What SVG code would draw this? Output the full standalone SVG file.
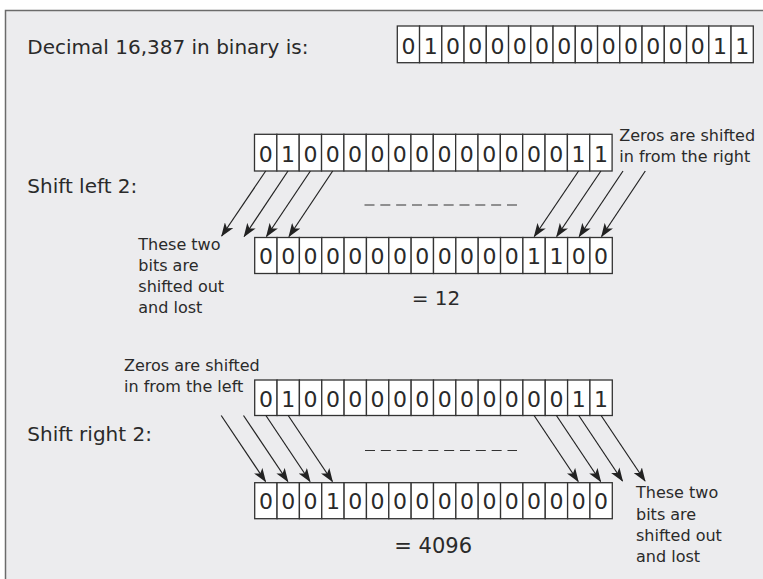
<svg xmlns="http://www.w3.org/2000/svg" width="763" height="579" viewBox="0 0 763 579">
<style>
.frame{fill:#ECECEE;stroke:#6b6b6b;stroke-width:1.5}
.cell{fill:#ffffff;stroke:#333333;stroke-width:1.3}
.bit{font-family:"DejaVu Sans",sans-serif;font-size:22px;fill:#2a2a2a;text-anchor:middle}
.lbl{font-family:"DejaVu Sans",sans-serif;font-size:20px;fill:#2a2a2a}
.note{font-family:"DejaVu Sans",sans-serif;font-size:16px;fill:#2a2a2a}
.res{font-family:"DejaVu Sans",sans-serif;font-size:21px;fill:#2a2a2a}
.arr{stroke:#222222;stroke-width:1.2;fill:none;marker-end:url(#ah)}
.dash{stroke:#333333;stroke-width:1.2;stroke-dasharray:10 5.83;fill:none}
</style>
<defs>
<marker id="ah" viewBox="0 0 14 10" refX="13" refY="5" markerWidth="14" markerHeight="10" markerUnits="userSpaceOnUse" orient="auto">
<path d="M0,0 L14,5 L0,10 L3.5,5 Z" fill="#222222"/>
</marker>
</defs>
<rect class="frame" x="5.5" y="10.5" width="800" height="620"/>

<g id="label-decimal"><text class="lbl" x="27.3" y="54.3">Decimal 16,387 in binary is:</text></g>

<g id="row-original">
<rect class="cell" x="397.3" y="26" width="22.25" height="36.7"/><text class="bit" x="408.4" y="53.5">0</text>
<rect class="cell" x="419.55" y="26" width="22.25" height="36.7"/><text class="bit" x="430.7" y="53.5">1</text>
<rect class="cell" x="441.8" y="26" width="22.25" height="36.7"/><text class="bit" x="452.9" y="53.5">0</text>
<rect class="cell" x="464.05" y="26" width="22.25" height="36.7"/><text class="bit" x="475.2" y="53.5">0</text>
<rect class="cell" x="486.3" y="26" width="22.25" height="36.7"/><text class="bit" x="497.4" y="53.5">0</text>
<rect class="cell" x="508.55" y="26" width="22.25" height="36.7"/><text class="bit" x="519.7" y="53.5">0</text>
<rect class="cell" x="530.8" y="26" width="22.25" height="36.7"/><text class="bit" x="541.9" y="53.5">0</text>
<rect class="cell" x="553.05" y="26" width="22.25" height="36.7"/><text class="bit" x="564.2" y="53.5">0</text>
<rect class="cell" x="575.3" y="26" width="22.25" height="36.7"/><text class="bit" x="586.4" y="53.5">0</text>
<rect class="cell" x="597.55" y="26" width="22.25" height="36.7"/><text class="bit" x="608.7" y="53.5">0</text>
<rect class="cell" x="619.8" y="26" width="22.25" height="36.7"/><text class="bit" x="630.9" y="53.5">0</text>
<rect class="cell" x="642.05" y="26" width="22.25" height="36.7"/><text class="bit" x="653.2" y="53.5">0</text>
<rect class="cell" x="664.3" y="26" width="22.25" height="36.7"/><text class="bit" x="675.4" y="53.5">0</text>
<rect class="cell" x="686.55" y="26" width="22.25" height="36.7"/><text class="bit" x="697.7" y="53.5">0</text>
<rect class="cell" x="708.8" y="26" width="22.25" height="36.7"/><text class="bit" x="719.9" y="53.5">1</text>
<rect class="cell" x="731.05" y="26" width="22.25" height="36.7"/><text class="bit" x="742.2" y="53.5">1</text>
</g>

<g id="label-shift-left"><text class="lbl" x="27.3" y="193.3">Shift left 2:</text></g>

<g id="row-left-before">
<rect class="cell" x="254.5" y="134.3" width="22.35" height="36.7"/><text class="bit" x="265.7" y="161.5">0</text>
<rect class="cell" x="276.85" y="134.3" width="22.35" height="36.7"/><text class="bit" x="288.0" y="161.5">1</text>
<rect class="cell" x="299.2" y="134.3" width="22.35" height="36.7"/><text class="bit" x="310.4" y="161.5">0</text>
<rect class="cell" x="321.55" y="134.3" width="22.35" height="36.7"/><text class="bit" x="332.7" y="161.5">0</text>
<rect class="cell" x="343.9" y="134.3" width="22.35" height="36.7"/><text class="bit" x="355.1" y="161.5">0</text>
<rect class="cell" x="366.25" y="134.3" width="22.35" height="36.7"/><text class="bit" x="377.4" y="161.5">0</text>
<rect class="cell" x="388.6" y="134.3" width="22.35" height="36.7"/><text class="bit" x="399.8" y="161.5">0</text>
<rect class="cell" x="410.95" y="134.3" width="22.35" height="36.7"/><text class="bit" x="422.1" y="161.5">0</text>
<rect class="cell" x="433.3" y="134.3" width="22.35" height="36.7"/><text class="bit" x="444.5" y="161.5">0</text>
<rect class="cell" x="455.65" y="134.3" width="22.35" height="36.7"/><text class="bit" x="466.8" y="161.5">0</text>
<rect class="cell" x="478.0" y="134.3" width="22.35" height="36.7"/><text class="bit" x="489.2" y="161.5">0</text>
<rect class="cell" x="500.35" y="134.3" width="22.35" height="36.7"/><text class="bit" x="511.5" y="161.5">0</text>
<rect class="cell" x="522.7" y="134.3" width="22.35" height="36.7"/><text class="bit" x="533.9" y="161.5">0</text>
<rect class="cell" x="545.05" y="134.3" width="22.35" height="36.7"/><text class="bit" x="556.2" y="161.5">0</text>
<rect class="cell" x="567.4" y="134.3" width="22.35" height="36.7"/><text class="bit" x="578.6" y="161.5">1</text>
<rect class="cell" x="589.75" y="134.3" width="22.35" height="36.7"/><text class="bit" x="600.9" y="161.5">1</text>
</g>

<g id="note-left-in">
<text class="note" x="619.3" y="140.7">Zeros are shifted</text>
<text class="note" x="619.3" y="161.7">in from the right</text>
</g>

<g id="row-left-after">
<rect class="cell" x="254.7" y="237.5" width="22.35" height="36"/><text class="bit" x="265.9" y="264">0</text>
<rect class="cell" x="277.05" y="237.5" width="22.35" height="36"/><text class="bit" x="288.2" y="264">0</text>
<rect class="cell" x="299.4" y="237.5" width="22.35" height="36"/><text class="bit" x="310.6" y="264">0</text>
<rect class="cell" x="321.75" y="237.5" width="22.35" height="36"/><text class="bit" x="332.9" y="264">0</text>
<rect class="cell" x="344.1" y="237.5" width="22.35" height="36"/><text class="bit" x="355.3" y="264">0</text>
<rect class="cell" x="366.45" y="237.5" width="22.35" height="36"/><text class="bit" x="377.6" y="264">0</text>
<rect class="cell" x="388.8" y="237.5" width="22.35" height="36"/><text class="bit" x="400.0" y="264">0</text>
<rect class="cell" x="411.15" y="237.5" width="22.35" height="36"/><text class="bit" x="422.3" y="264">0</text>
<rect class="cell" x="433.5" y="237.5" width="22.35" height="36"/><text class="bit" x="444.7" y="264">0</text>
<rect class="cell" x="455.85" y="237.5" width="22.35" height="36"/><text class="bit" x="467.0" y="264">0</text>
<rect class="cell" x="478.2" y="237.5" width="22.35" height="36"/><text class="bit" x="489.4" y="264">0</text>
<rect class="cell" x="500.55" y="237.5" width="22.35" height="36"/><text class="bit" x="511.7" y="264">0</text>
<rect class="cell" x="522.9" y="237.5" width="22.35" height="36"/><text class="bit" x="534.1" y="264">1</text>
<rect class="cell" x="545.25" y="237.5" width="22.35" height="36"/><text class="bit" x="556.4" y="264">1</text>
<rect class="cell" x="567.6" y="237.5" width="22.35" height="36"/><text class="bit" x="578.8" y="264">0</text>
<rect class="cell" x="589.95" y="237.5" width="22.35" height="36"/><text class="bit" x="601.1" y="264">0</text>
</g>

<g id="note-left-lost">
<text class="note" x="138.3" y="250">These two</text>
<text class="note" x="138.3" y="270.8">bits are</text>
<text class="note" x="138.3" y="291.7">shifted out</text>
<text class="note" x="138.3" y="313.3">and lost</text>
</g>

<g id="result-left"><text class="lbl" x="411.7" y="305">= 12</text></g>

<g id="label-shift-right"><text class="lbl" x="27.3" y="440.5">Shift right 2:</text></g>

<g id="note-right-in">
<text class="note" x="124" y="370.5">Zeros are shifted</text>
<text class="note" x="124" y="392.3">in from the left</text>
</g>

<g id="row-right-before">
<rect class="cell" x="254.7" y="380" width="22.35" height="35.5"/><text class="bit" x="265.9" y="406.5">0</text>
<rect class="cell" x="277.05" y="380" width="22.35" height="35.5"/><text class="bit" x="288.2" y="406.5">1</text>
<rect class="cell" x="299.4" y="380" width="22.35" height="35.5"/><text class="bit" x="310.6" y="406.5">0</text>
<rect class="cell" x="321.75" y="380" width="22.35" height="35.5"/><text class="bit" x="332.9" y="406.5">0</text>
<rect class="cell" x="344.1" y="380" width="22.35" height="35.5"/><text class="bit" x="355.3" y="406.5">0</text>
<rect class="cell" x="366.45" y="380" width="22.35" height="35.5"/><text class="bit" x="377.6" y="406.5">0</text>
<rect class="cell" x="388.8" y="380" width="22.35" height="35.5"/><text class="bit" x="400.0" y="406.5">0</text>
<rect class="cell" x="411.15" y="380" width="22.35" height="35.5"/><text class="bit" x="422.3" y="406.5">0</text>
<rect class="cell" x="433.5" y="380" width="22.35" height="35.5"/><text class="bit" x="444.7" y="406.5">0</text>
<rect class="cell" x="455.85" y="380" width="22.35" height="35.5"/><text class="bit" x="467.0" y="406.5">0</text>
<rect class="cell" x="478.2" y="380" width="22.35" height="35.5"/><text class="bit" x="489.4" y="406.5">0</text>
<rect class="cell" x="500.55" y="380" width="22.35" height="35.5"/><text class="bit" x="511.7" y="406.5">0</text>
<rect class="cell" x="522.9" y="380" width="22.35" height="35.5"/><text class="bit" x="534.1" y="406.5">0</text>
<rect class="cell" x="545.25" y="380" width="22.35" height="35.5"/><text class="bit" x="556.4" y="406.5">0</text>
<rect class="cell" x="567.6" y="380" width="22.35" height="35.5"/><text class="bit" x="578.8" y="406.5">1</text>
<rect class="cell" x="589.95" y="380" width="22.35" height="35.5"/><text class="bit" x="601.1" y="406.5">1</text>
</g>

<g id="row-right-after">
<rect class="cell" x="254.7" y="482.7" width="22.35" height="36"/><text class="bit" x="265.9" y="509.3">0</text>
<rect class="cell" x="277.05" y="482.7" width="22.35" height="36"/><text class="bit" x="288.2" y="509.3">0</text>
<rect class="cell" x="299.4" y="482.7" width="22.35" height="36"/><text class="bit" x="310.6" y="509.3">0</text>
<rect class="cell" x="321.75" y="482.7" width="22.35" height="36"/><text class="bit" x="332.9" y="509.3">1</text>
<rect class="cell" x="344.1" y="482.7" width="22.35" height="36"/><text class="bit" x="355.3" y="509.3">0</text>
<rect class="cell" x="366.45" y="482.7" width="22.35" height="36"/><text class="bit" x="377.6" y="509.3">0</text>
<rect class="cell" x="388.8" y="482.7" width="22.35" height="36"/><text class="bit" x="400.0" y="509.3">0</text>
<rect class="cell" x="411.15" y="482.7" width="22.35" height="36"/><text class="bit" x="422.3" y="509.3">0</text>
<rect class="cell" x="433.5" y="482.7" width="22.35" height="36"/><text class="bit" x="444.7" y="509.3">0</text>
<rect class="cell" x="455.85" y="482.7" width="22.35" height="36"/><text class="bit" x="467.0" y="509.3">0</text>
<rect class="cell" x="478.2" y="482.7" width="22.35" height="36"/><text class="bit" x="489.4" y="509.3">0</text>
<rect class="cell" x="500.55" y="482.7" width="22.35" height="36"/><text class="bit" x="511.7" y="509.3">0</text>
<rect class="cell" x="522.9" y="482.7" width="22.35" height="36"/><text class="bit" x="534.1" y="509.3">0</text>
<rect class="cell" x="545.25" y="482.7" width="22.35" height="36"/><text class="bit" x="556.4" y="509.3">0</text>
<rect class="cell" x="567.6" y="482.7" width="22.35" height="36"/><text class="bit" x="578.8" y="509.3">0</text>
<rect class="cell" x="589.95" y="482.7" width="22.35" height="36"/><text class="bit" x="601.1" y="509.3">0</text>
</g>

<g id="note-right-lost">
<text class="note" x="636" y="498.3">These two</text>
<text class="note" x="636" y="519.5">bits are</text>
<text class="note" x="636" y="541">shifted out</text>
<text class="note" x="636" y="562.3">and lost</text>
</g>

<g id="result-right"><text class="res" x="394.3" y="552.7">= 4096</text></g>

<g id="connectors">
<line class="arr" x1="265.7" y1="171" x2="221.7" y2="236"/>
<line class="arr" x1="288.0" y1="171" x2="244.2" y2="236.5"/>
<line class="arr" x1="310.4" y1="171" x2="266.5" y2="236.5"/>
<line class="arr" x1="332.7" y1="171" x2="289.0" y2="236.5"/>
<line class="arr" x1="578.6" y1="171" x2="534.3" y2="236.5"/>
<line class="arr" x1="600.9" y1="171" x2="556.7" y2="236.5"/>
<line class="arr" x1="623.0" y1="171" x2="579.2" y2="236.5"/>
<line class="arr" x1="645.3" y1="171" x2="601.6" y2="236.5"/>
<line class="dash" x1="364.5" y1="205" x2="517" y2="205"/>

<line class="arr" x1="221.2" y1="415.5" x2="265.5" y2="481.5"/>
<line class="arr" x1="243.5" y1="415.5" x2="287.8" y2="481.5"/>
<line class="arr" x1="265.9" y1="415.5" x2="310.0" y2="481.5"/>
<line class="arr" x1="288.2" y1="415.5" x2="332.4" y2="481.5"/>
<line class="arr" x1="534.1" y1="415.5" x2="578.2" y2="481.5"/>
<line class="arr" x1="556.4" y1="415.5" x2="600.6" y2="481.5"/>
<line class="arr" x1="578.8" y1="415.5" x2="622.5" y2="481"/>
<line class="arr" x1="601.1" y1="415.5" x2="645" y2="481"/>
<line class="dash" x1="365" y1="450.5" x2="517" y2="450.5"/>
</g>
</svg>
